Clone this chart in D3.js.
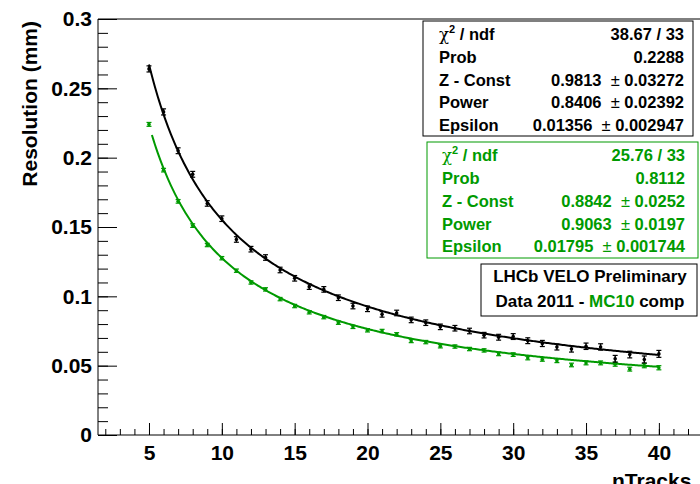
<!DOCTYPE html>
<html>
<head>
<script src="https://cdnjs.cloudflare.com/ajax/libs/d3/7.8.5/d3.min.js"></script>
<style>
  body { margin: 0; background: #fff; }
  svg { font-family: "Liberation Sans", Arial, sans-serif; font-weight: bold; }
  .axis text { font-size: 21px; font-weight: bold; fill: #000; }
  .axis line { stroke: #000; }
  .stats text { font-size: 16.5px; }
</style>
</head>
<body>
<div id="chart"></div>
<script>
// --- data ---
const nTracks = [5, 6, 7, 8, 9, 10, 11, 12, 13, 14, 15, 16, 17, 18, 19, 20, 21, 22,
                 23, 24, 25, 26, 27, 28, 29, 30, 31, 32, 33, 34, 35, 36, 37, 38, 39, 40];
const dataRes = [0.264, 0.233, 0.205, 0.188, 0.167, 0.156, 0.141, 0.134, 0.128, 0.119, 0.113, 0.107,
                 0.105, 0.099, 0.093, 0.091, 0.087, 0.088, 0.083, 0.081, 0.078, 0.077, 0.075, 0.072,
                 0.0705, 0.071, 0.068, 0.066, 0.0635, 0.062, 0.064, 0.0635, 0.055, 0.058, 0.0545, 0.0585];
const dataErr = [0.0022, 0.0022, 0.0021, 0.0021, 0.002, 0.002, 0.002, 0.002, 0.002, 0.002, 0.002, 0.002,
                 0.002, 0.002, 0.002, 0.002, 0.002, 0.002, 0.002, 0.002, 0.002, 0.002, 0.002, 0.002,
                 0.0021, 0.0021, 0.0021, 0.0022, 0.0022, 0.0022, 0.0023, 0.0023, 0.0024, 0.0024, 0.0025, 0.0025];
const mcRes = [0.224, 0.191, 0.1685, 0.151, 0.137, 0.1275, 0.1185, 0.110, 0.105, 0.098, 0.093, 0.0885,
               0.085, 0.081, 0.078, 0.0755, 0.075, 0.0726, 0.0678, 0.067, 0.064, 0.0638, 0.062, 0.061,
               0.0585, 0.058, 0.0555, 0.0545, 0.0535, 0.0505, 0.052, 0.052, 0.051, 0.0475, 0.050, 0.0485];
const mcErr = [0.0014, 0.0013, 0.0013, 0.0013, 0.0012, 0.0012, 0.0012, 0.0012, 0.0012, 0.0012, 0.0012, 0.0012,
               0.0012, 0.0012, 0.0012, 0.0012, 0.0012, 0.0012, 0.0012, 0.0012, 0.0012, 0.0012, 0.0012, 0.0012,
               0.0013, 0.0013, 0.0013, 0.0013, 0.0013, 0.0013, 0.0014, 0.0014, 0.0014, 0.0014, 0.0015, 0.0015];

// fit parameters: Z-Const, Power, Epsilon  (sigma = Z / n^P + eps)
const dataFitPars = [0.9813, 0.8406, 0.01356];
const mcFitPars = [0.8842, 0.9063, 0.01795];

const xTickLabels = [5, 10, 15, 20, 25, 30, 35, 40];
const statLabels = ["ndf", "Prob", "Z - Const", "Power", "Epsilon"];
const dataStatValues = [["38.67 / 33"], ["0.2288"], ["0.9813", "0.03272"], ["0.8406", "0.02392"], ["0.01356", "0.002947"]];
const mcStatValues = [["25.76 / 33"], ["0.8112"], ["0.8842", "0.0252"], ["0.9063", "0.0197"], ["0.01795", "0.001744"]];

const black = "#000000";
const green = "#009a00";

const width = 700, height = 484;
const svg = d3.select("#chart").append("svg")
  .attr("width", width).attr("height", height);

const x = d3.scaleLinear().domain([1.5, 45.5]).range([98, 739]);
const y = d3.scaleLinear().domain([0, 0.3]).range([435, 19]);

// minor ticks
svg.append("g").attr("class", "axis")
  .attr("transform", `translate(0,${y(0)})`)
  .call(d3.axisBottom(x).tickValues(x.ticks(40)).tickSizeInner(-6).tickSizeOuter(0).tickFormat(""))
  .call(g => g.select(".domain").remove());
svg.append("g").attr("class", "axis")
  .attr("transform", `translate(${x(1.5)},0)`)
  .call(d3.axisLeft(y).tickValues(y.ticks(30)).tickSizeInner(-10).tickSizeOuter(0).tickFormat(""))
  .call(g => g.select(".domain").remove());

// major ticks + labels
svg.append("g").attr("class", "axis")
  .attr("transform", `translate(0,${y(0)})`)
  .call(d3.axisBottom(x).tickValues(xTickLabels).tickSizeInner(-12).tickSizeOuter(0).tickPadding(10))
  .call(g => g.select(".domain").remove());
svg.append("g").attr("class", "axis")
  .attr("transform", `translate(${x(1.5)},0)`)
  .call(d3.axisLeft(y).ticks(6).tickSizeInner(-19).tickSizeOuter(0).tickPadding(6)
    .tickFormat(d => String(+d.toFixed(2))))
  .call(g => g.select(".domain").remove());

// frame
const frame = svg.append("g").attr("stroke", "#000").attr("stroke-width", 1).attr("fill", "none");
frame.append("path").attr("d", `M${width + 5},${y(0.3)}H${x(1.5)}V${y(0)}H${width + 5}`);

// axis titles
svg.append("text")
  .attr("transform", `translate(37,${y(0.3) + 2}) rotate(-90)`)
  .attr("text-anchor", "end")
  .attr("font-size", 21)
  .text("Resolution (mm)");
svg.append("text")
  .attr("x", 612).attr("y", 488)
  .attr("font-size", 21)
  .text("nTracks");

// fit curves
function fitLine(pars, from, to) {
  const pts = d3.range(from, to + 0.001, 0.1);
  return d3.line()
    .x(n => x(n))
    .y(n => y(pars[0] * Math.pow(n, -pars[1]) + pars[2]))(pts);
}
svg.append("path").attr("d", fitLine(mcFitPars, 5.2, 40))
  .attr("fill", "none").attr("stroke", green).attr("stroke-width", 2);
svg.append("path").attr("d", fitLine(dataFitPars, 5, 40))
  .attr("fill", "none").attr("stroke", black).attr("stroke-width", 2);

// data points with error bars
function drawPoints(vals, errs, color) {
  const g = svg.append("g").attr("stroke", color).attr("fill", color);
  const pts = g.selectAll("g").data(nTracks.map((n, i) => ({ n, v: vals[i], e: errs[i] })))
    .join("g");
  pts.append("line")
    .attr("x1", d => x(d.n)).attr("x2", d => x(d.n))
    .attr("y1", d => y(d.v - d.e)).attr("y2", d => y(d.v + d.e))
    .attr("stroke-width", 1.5);
  pts.append("line")
    .attr("x1", d => x(d.n) - 2.5).attr("x2", d => x(d.n) + 2.5)
    .attr("y1", d => y(d.v - d.e)).attr("y2", d => y(d.v - d.e))
    .attr("stroke-width", 1.2);
  pts.append("line")
    .attr("x1", d => x(d.n) - 2.5).attr("x2", d => x(d.n) + 2.5)
    .attr("y1", d => y(d.v + d.e)).attr("y2", d => y(d.v + d.e))
    .attr("stroke-width", 1.2);
  pts.append("circle")
    .attr("cx", d => x(d.n)).attr("cy", d => y(d.v)).attr("r", 1.8).attr("stroke", "none");
}
drawPoints(mcRes, mcErr, green);
drawPoints(dataRes, dataErr, black);

// stats boxes
function drawStats(box, color, values, labelX, valueX, baselines) {
  const g = svg.append("g").attr("class", "stats").attr("fill", color);
  g.append("rect")
    .attr("x", box[0]).attr("y", box[1]).attr("width", box[2]).attr("height", box[3])
    .attr("fill", "#fff").attr("stroke", color).attr("stroke-width", 1);
  statLabels.forEach((lab, i) => {
    const t = g.append("text").attr("x", labelX).attr("y", baselines[i]);
    if (i === 0) {
      t.append("tspan").attr("font-weight", "normal").attr("font-family", "'DejaVu Serif', serif").text("\u03C7");
      t.append("tspan").attr("font-size", 11).attr("dy", -7).text("2");
      t.append("tspan").attr("dy", 7).text(" / " + lab);
    } else {
      t.text(lab);
    }
    const v = g.append("text").attr("x", valueX).attr("y", baselines[i]).attr("text-anchor", "end")
      .attr("xml:space", "preserve").style("white-space", "pre");
    v.append("tspan").text(values[i][0]);
    if (values[i].length > 1) {
      v.append("tspan").attr("font-weight", "normal").text("  \u00B1 ");
      v.append("tspan").text(values[i][1]);
    }
  });
}
drawStats([423, 21, 270, 115], black, dataStatValues, 439, 684, [40, 63, 85.5, 108, 130.5]);
drawStats([427, 142, 271, 116], green, mcStatValues, 442, 685, [161, 184, 207, 229.5, 252]);

// label box
const lb = svg.append("g");
lb.append("rect").attr("x", 481).attr("y", 264).attr("width", 216).attr("height", 52)
  .attr("fill", "#fff").attr("stroke", "#000").attr("stroke-width", 1);
lb.append("text").attr("x", 590).attr("y", 282).attr("text-anchor", "middle")
  .attr("font-size", 17).text("LHCb VELO Preliminary");
const l2 = lb.append("text").attr("x", 590).attr("y", 307).attr("text-anchor", "middle")
  .attr("font-size", 17);
l2.append("tspan").text("Data 2011 - ");
l2.append("tspan").attr("fill", green).text("MC10");
l2.append("tspan").text(" comp");
</script>
</body>
</html>
